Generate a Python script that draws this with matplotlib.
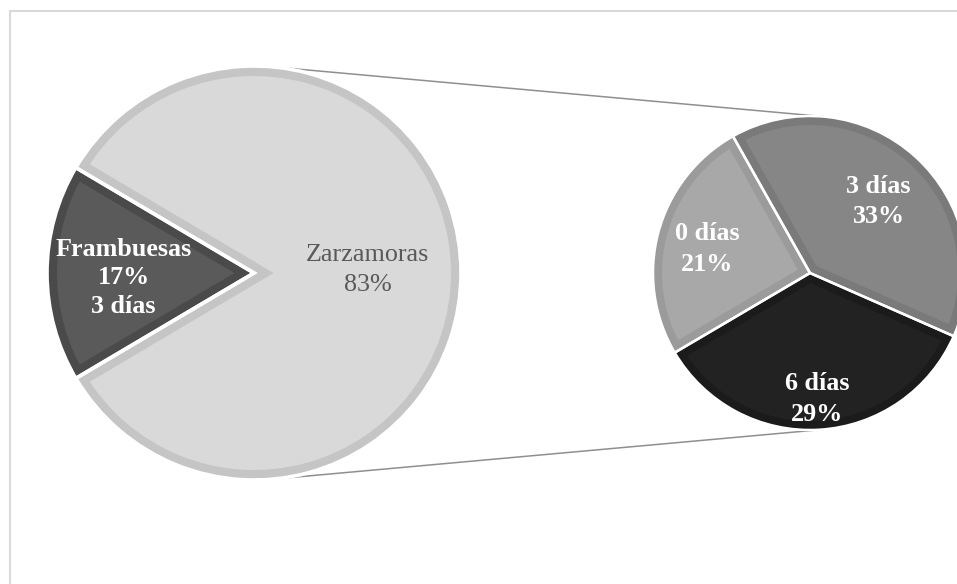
import numpy as np
import matplotlib
matplotlib.use("Agg")
import matplotlib.pyplot as plt
from matplotlib.patches import Rectangle

# ---- data ----
main_labels = ["Frambuesas", "Zarzamoras"]
main_values = [17, 83]
main_extra = ["3 días", ""]
sub_labels = ["0 días", "3 días", "6 días"]
sub_values = [21, 33, 29]

# ---- style ----
main_fills = ["#5a5a5a", "#d9d9d9"]
main_bands = ["#4a4a4a", "#c5c5c5"]
sub_fills = ["#a8a8a8", "#868686", "#222222"]
sub_bands = ["#9b9b9b", "#7a7a7a", "#1b1b1b"]

W, H = 957, 584
fig = plt.figure(figsize=(W / 100, H / 100), dpi=100)
ax = fig.add_axes([0, 0, 1, 1])

c1, r1 = (254, H - 273), 207
c2, r2 = (810, H - 273), 157

FONT = "Liberation Serif"


def draw_pie(values, center, radius, start, ccw, fills, bands, band_px, sep_lw):
    wedges, _ = ax.pie(values, center=center, radius=radius, startangle=start,
                       counterclock=ccw, colors=fills,
                       wedgeprops=dict(edgecolor="none", linewidth=0))
    for w, bc in zip(wedges, bands):
        w.set_edgecolor(bc)
        w.set_linewidth(2 * band_px * 0.72)
        w.set_clip_on(True)
        w.set_clip_path(w)
        w.set_zorder(2)
    sep, _ = ax.pie(values, center=center, radius=radius, startangle=start,
                    counterclock=ccw,
                    wedgeprops=dict(edgecolor="white", linewidth=sep_lw, fill=False))
    for s in sep:
        s.set_zorder(3)
    return wedges


def label_pos(w, dist):
    mid = np.deg2rad((w.theta1 + w.theta2) / 2)
    cx, cy = w.center
    return cx + dist * w.r * np.cos(mid), cy + dist * w.r * np.sin(mid)


total = sum(main_values)
start_main = 180 - main_values[0] / total * 180
mw = draw_pie(main_values, c1, r1, start_main, True, main_fills, main_bands, 10, 2.6)

sub_total = sum(sub_values)
start_sub = 119.4 + sub_values[0] / sub_total * 360
sw = draw_pie(sub_values, c2, r2, start_sub, False, sub_fills, sub_bands, 9, 1.8)

# connector lines (external tangents)
phi = np.arccos((r1 - r2) / (c2[0] - c1[0]))
for s in (1, -1):
    p1 = (c1[0] + r1 * np.cos(phi), c1[1] + s * r1 * np.sin(phi))
    p2 = (c2[0] + r2 * np.cos(phi), c2[1] + s * r2 * np.sin(phi))
    ax.plot([p1[0], p2[0]], [p1[1], p2[1]], color="#8f8f8f", lw=1.1, zorder=1,
            solid_capstyle="butt")

# labels
fs = 18.8
ls = 1.42
dy = -5
x, y = label_pos(mw[0], 0.63)
ax.text(x, y + dy, f"{main_labels[0]}\n{main_values[0]}%\n{main_extra[0]}", ha="center",
        va="center", multialignment="center", color="white", fontweight="bold",
        fontsize=fs, family=FONT, linespacing=1.32, zorder=5)
x, y = label_pos(mw[1], 0.55)
ax.text(x, y + 3, f"{main_labels[1]}\n{main_values[1]}%", ha="center", va="center",
        multialignment="center", color="#595959", fontsize=fs, family=FONT,
        linespacing=ls, zorder=5)

sub_dist = [0.68, 0.65, 0.78]
for w, lab, v, d in zip(sw, sub_labels, sub_values, sub_dist):
    x, y = label_pos(w, d)
    ax.text(x, y + dy + 1, f"{lab}\n{v}%", ha="center", va="center",
            multialignment="center", color="white", fontweight="bold", fontsize=fs,
            family=FONT, linespacing=ls, zorder=5)

# chart frame
ax.add_patch(Rectangle((10, -20), W + 50, H - 11 + 20, fill=False,
                       edgecolor="#d9d9d9", lw=1.5, zorder=0))

ax.set_xlim(0, W)
ax.set_ylim(0, H)
ax.set_aspect("equal")
ax.axis("off")

fig.savefig("out.png", dpi=100)
